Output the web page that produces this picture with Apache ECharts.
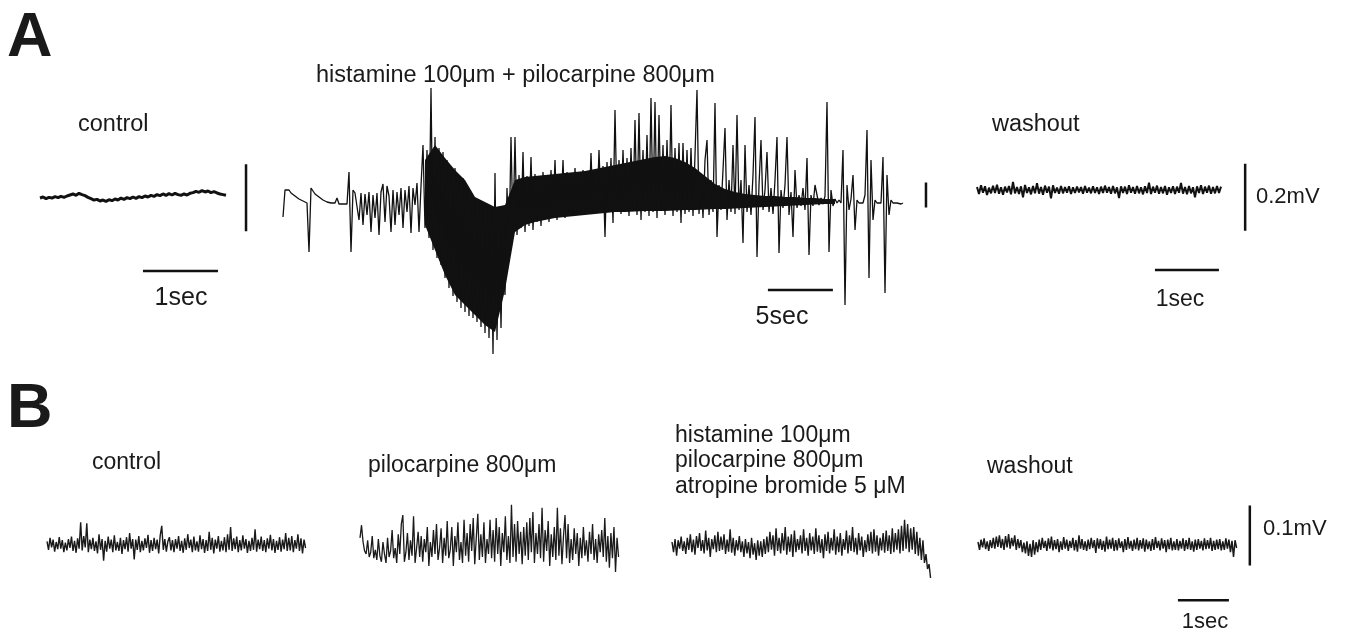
<!DOCTYPE html>
<html>
<head>
<meta charset="UTF-8">
<title>EMG traces</title>
<script src="https://cdn.jsdelivr.net/npm/echarts@6.0.0/dist/echarts.min.js"></script>
<style>
  html, body { margin: 0; padding: 0; background: #fff; }
  #chart { width: 1347px; height: 635px; }
</style>
</head>
<body>
<div id="chart"></div>
<script>
// ---- data (µV) ----
// A, control: 3px per sample
const aControl = [-6,-3,-8,-4,-6,-2,-5,-1,-4,0,
  3,6,2,8,4,1,-4,-8,-12,-10,
  -15,-12,-16,-11,-14,-9,-12,-6,-10,-5,
  -8,-3,-7,-2,-5,0,-3,2,-1,4,
  1,6,2,7,3,8,4,2,6,3,
  8,10,14,11,16,12,15,10,13,9,
  6,4,2];

// A, histamine + pilocarpine: three stretches, 2px per sample
const aDrugEarly = [-170,100,120,100,70,50,40,20,10,0,
  -10,-20,-30,-520,120,90,60,40,30,10,
  0,-10,-20,-20,-30,-20,-30,20,-40,-30,
  -40,-30,-40,280,-520,100,70,60,-200,70,
  -250,60,-150,80,-320,50,-180,70,-350,80,
  160,-220,140,40,-320,100,-250,80,-150,120,
  -280,100,-120,140,-330,120,-50,170,-320,140];
const aDrugBurst = [550,-280,500,-380,1120,-500,630,-580,520,-650,
  480,-780,400,-880,330,-960,320,-1020,240,-1080,
  220,-1120,120,-1160,50,-1180,0,-1220,-30,-1270,
  -40,-1330,-50,-1380,-70,-1540,270,-1400,-100,-1280,
  -120,-950,120,-500,630];
const aDrugLate = [-320,630,-350,250,-280,480,-320,240,-260,430,
  -300,260,-220,220,-260,280,-180,240,-220,300,
  -160,400,-200,250,-140,400,-180,280,-120,240,
  -160,320,-100,260,-150,300,-110,250,-140,470,
  -100,280,-130,500,-90,340,-370,380,-120,420,
  -230,900,-100,400,-140,500,-120,420,-160,520,
  -110,800,-150,870,-200,500,-120,650,-160,1020,
  -120,980,-180,850,-110,550,-150,600,-100,950,
  -160,520,-120,570,-230,570,-140,500,-120,520,
  -160,450,1100,-140,250,-180,400,600,-150,200,
  -120,970,-370,150,-100,300,720,-200,200,-120,
  550,-140,850,-100,200,-430,550,-120,150,-150,
  250,830,-570,150,600,-100,100,480,-120,120,
  -140,200,630,-530,100,-80,150,630,-150,80,
  -370,300,-80,50,-60,120,-100,420,-550,50,
  -60,150,150,-50,20,-40,40,980,-520,100,
  -60,10,-30,0,-30,500,-1050,150,-100,10,
  250,-300,0,-30,-10,-30,50,700,-780,400,
  -200,0,-30,-10,-30,430,-930,250,-150,0,
  -30,-10,-30,-20,-40,-30];
// solid core of the drug trace, every 10px from 11 s on
const aCoreTop = [400,550,420,300,200,30,-20,-70,-50,200,
  230,240,250,260,270,280,290,310,330,350,
  370,390,410,430,440,420,380,320,240,160,
  110,80,60,50,40,40,30,30,20,20,
  10,10];
const aCoreBottom = [-250,-500,-750,-950,-1050,-1150,-1250,-1320,-900,-320,
  -250,-220,-200,-180,-170,-160,-150,-140,-130,-120,
  -120,-115,-110,-110,-110,-105,-100,-100,-95,-90,
  -90,-85,-80,-75,-70,-65,-60,-55,-50,-45,
  -40,-40];

// A, washout: 2px per sample
const aWash = [9,-12,14,-8,11,-15,7,-10,13,-9,16,-11,8,-14,10,-7,12,-13,24,-10,
  9,-12,11,-22,15,-9,8,-13,12,-10,20,-11,9,-14,13,-8,10,-25,14,-9,
  7,-11,12,-10,9,-8,11,-12,8,-9,10,-7,9,-11,12,-8,7,-10,11,-9,
  8,-12,10,-9,13,-8,9,-11,12,-10,8,-24,11,-9,10,-12,14,-8,9,-11,
  12,-10,8,-13,11,-9,22,-12,10,-8,13,-11,9,-10,12,-14,8,-9,11,-12,
  10,-8,21,-11,9,-13,12,-10,8,-22,11,-9,14,-12,10,-8,13,-11,9,-10,
  12,-9,10];

// B traces: 0.03 s per sample
const bControl = [6,-8,12,-4,9,-11,5,-7,13,-6,
  8,-12,4,-9,10,-5,14,-10,7,-13,
  11,-6,38,-9,15,-4,36,-12,9,-7,
  12,-10,6,-14,18,-8,10,-26,7,-11,
  14,-6,9,-12,16,-9,5,-10,12,-15,
  8,-7,13,-11,20,-6,10,-24,9,-8,
  15,-12,7,-9,11,-5,17,-13,8,-10,
  12,-7,9,-14,16,32,-8,10,-11,6,
  13,-9,8,-12,10,-6,15,-10,7,-13,
  11,-8,18,-5,9,-12,14,-9,6,-11,
  16,-7,10,-13,8,-10,22,-8,12,-14,
  9,-6,15,-11,7,-9,13,-12,18,-8,
  30,-10,11,-7,14,-12,8,-9,16,-6,
  10,-13,7,-10,12,-8,26,-11,9,-7,
  14,-10,8,-12,11,-6,17,-9,10,-13,
  7,-8,13,-11,9,-7,20,-10,12,-9,
  15,-12,8,-6,18,-10,11,-14,9,-5];
const bPilo = [12,33,5,-10,-15,8,-20,-12,15,-22,
  -8,-25,10,-18,-28,5,-15,-30,12,-20,
  -10,25,-22,-5,-30,18,-15,35,50,-28,
  -12,20,-25,8,-18,48,-30,-5,22,-20,
  15,-28,10,-12,30,-35,5,-20,25,-15,
  35,-25,-5,28,-30,12,-18,40,-22,-8,
  30,-35,15,-12,38,-25,5,-30,42,-18,
  20,-28,35,-10,45,-32,12,52,-25,18,
  -20,38,-30,10,-15,42,-22,25,-28,45,
  -15,30,-35,20,-12,48,-25,15,-30,67,
  -20,35,-28,40,-15,22,-32,30,-18,38,
  -25,45,-12,55,-30,20,-15,35,-22,62,
  -28,25,-10,40,-35,18,-20,30,-25,62,
  -18,28,-32,15,50,-22,35,-30,10,-25,
  28,-15,20,-35,12,-22,30,-18,8,-28,
  22,-15,35,-25,10,-30,18,-12,25,-20,
  45,-28,15,-38,20,-22,30,-45,12,-20];
const bAtropine = [5,-12,10,-18,8,-6,14,-10,6,-15,
  12,-8,18,-12,9,-16,15,-5,20,-10,
  8,-14,24,-9,12,-20,10,-7,16,-12,
  22,-10,14,-8,18,-15,9,-11,26,-13,
  12,-18,8,-9,15,-12,6,-20,10,-14,
  5,-22,12,-16,3,-25,8,-18,6,-20,
  10,-15,14,-12,22,-8,16,-18,28,-10,
  12,-14,20,-9,30,-16,14,-11,18,-20,
  24,-12,10,-8,16,-14,26,-10,12,-18,
  20,-9,14,-15,28,-11,16,-13,10,-22,
  18,-10,22,-14,12,-9,26,-16,14,-12,
  20,-18,10,-8,24,-14,16,-10,30,-12,
  12,-16,20,-9,14,-20,8,-12,18,-10,
  22,-14,26,-11,16,-18,12,-9,20,-13,
  24,-10,16,-15,28,-12,20,-8,26,-14,
  32,-10,42,-6,35,-12,28,-8,30,-15,
  22,-18,12,-25,8,-30,-15,-40,-32,-55];
const bWash = [5,-8,9,-4,11,-7,6,-10,8,-5,
  12,-6,14,-3,16,-5,10,-8,15,-4,
  18,-6,12,-2,16,-8,10,-5,8,-12,
  4,-14,6,-18,2,-20,8,-16,5,-12,
  9,-8,12,-5,7,-10,11,-6,14,-9,
  8,-7,10,-12,6,-8,13,-6,9,-10,
  7,-5,12,-9,8,-11,16,-6,10,-8,
  6,-10,9,-7,12,-5,8,-13,11,-6,
  10,-8,7,-11,14,-7,9,-6,12,-10,
  8,-9,11,-5,6,-12,10,-8,13,-6,
  7,-10,9,-7,12,-9,8,-6,11,-11,
  9,-7,6,-10,10,-8,13,-5,7,-9,
  11,-6,8,-12,9,-7,12,-9,6,-8,
  10,-9,7,-6,11,-10,8,-7,12,-8,
  6,-11,9,-8,10,-6,7,-9,11,-7,
  8,-6,12,-10,7,-8,9,-7,10,-9,
  6,-8,11,-6,9,-12,7,-20,8,-5];

// ---- panel layout: pixel origin of (t=0, v=0) and scale ----
const panels = [
  { box: [30, 150, 230, 135], x0: 40,  y0: 196, pxSec: 75, pxUv: 0.335 },  // A control
  { box: [275, 85, 665, 280], x0: 283, y0: 200, pxSec: 13, pxUv: 0.1 },    // A drug
  { box: [970, 150, 290, 135], x0: 977, y0: 190, pxSec: 64, pxUv: 0.335 }, // A washout
  { box: [40, 495, 280, 120],  x0: 47,  y0: 545, pxSec: 51, pxUv: 0.6 },   // B control
  { box: [353, 495, 280, 120], x0: 360, y0: 545, pxSec: 51, pxUv: 0.6 },   // B pilocarpine
  { box: [665, 495, 280, 120], x0: 672, y0: 545, pxSec: 51, pxUv: 0.6 },   // B atropine
  { box: [970, 495, 290, 120], x0: 978, y0: 545, pxSec: 51, pxUv: 0.6 }    // B washout
];

const grids = [], xAxes = [], yAxes = [];
panels.forEach(p => {
  const [l, t, w, h] = p.box;
  grids.push({ left: l, top: t, width: w, height: h });
  xAxes.push({ type: 'value', gridIndex: grids.length - 1, show: false,
    min: (l - p.x0) / p.pxSec, max: (l + w - p.x0) / p.pxSec });
  yAxes.push({ type: 'value', gridIndex: grids.length - 1, show: false,
    min: (p.y0 - (t + h)) / p.pxUv, max: (p.y0 - t) / p.pxUv });
});

const INK = '#111';
function trace(values, dt, idx, width, color) {
  return {
    type: 'line', xAxisIndex: idx, yAxisIndex: idx,
    data: values.map((v, i) => [i * dt, v]),
    showSymbol: false, animation: false, silent: true,
    lineStyle: { color: color || INK, width: width }
  };
}
function bar(points, idx, width) {
  return {
    type: 'line', xAxisIndex: idx, yAxisIndex: idx, data: points,
    showSymbol: false, animation: false, silent: true,
    lineStyle: { color: INK, width: width, cap: 'butt' }
  };
}

const drugDt = 2 / 13;
const drugAll = aDrugEarly.concat(aDrugBurst, aDrugLate);
const coreT0 = 142 / 13, coreDt = 10 / 13;
const bDt = 0.03;
const bColor = '#1a1a1a';

// outline of the solid core: top edge forward, bottom edge back
const coreOutline = aCoreTop.map((v, i) => [coreT0 + i * coreDt, v])
  .concat(aCoreBottom.map((v, i) => [coreT0 + i * coreDt, v]).reverse());

const series = [
  trace(aControl, 0.04, 0, 3),
  {
    type: 'custom', xAxisIndex: 1, yAxisIndex: 1, animation: false, silent: true,
    data: [0],
    renderItem: (params, api) => ({
      type: 'polygon',
      shape: { points: coreOutline.map(p => api.coord(p)) },
      style: { fill: INK }
    })
  },
  trace(drugAll, drugDt, 1, 1.3),
  trace(aWash, 2 / 64, 2, 2),
  trace(bControl, bDt, 3, 1.4, bColor),
  trace(bPilo, bDt, 4, 1.3, bColor),
  trace(bAtropine, bDt, 5, 1.4, bColor),
  trace(bWash, bDt, 6, 1.5, bColor),
  // scale bars (sec, µV)
  bar([[2.747, -105], [2.747, 95]], 0, 2.5),
  bar([[1.373, -224], [2.373, -224]], 0, 2.5),
  bar([[37.3, -900], [42.3, -900]], 1, 2.5),
  bar([[49.46, -75], [49.46, 175]], 1, 2.5),
  bar([[4.19, -122], [4.19, 78]], 2, 2.5),
  bar([[2.78, -239], [3.78, -239]], 2, 2.5),
  bar([[5.33, -34], [5.33, 66]], 6, 2.5),
  bar([[3.92, -92], [4.92, -92]], 6, 2.5)
];

const FONT = 'Liberation Sans, Arial, sans-serif';
function label(text, x, y, size, align, weight) {
  return { type: 'text', x: x, y: y, silent: true,
    style: { text: text, fill: '#1a1a1a', textAlign: align || 'left', textVerticalAlign: 'middle',
      font: (weight || 'normal') + ' ' + size + 'px ' + FONT } };
}

const chart = echarts.init(document.getElementById('chart'), null, { renderer: 'canvas' });
chart.setOption({
  backgroundColor: '#fff',
  animation: false,
  grid: grids, xAxis: xAxes, yAxis: yAxes,
  series: series,
  graphic: [
    label('A', 7, 39, 63, 'left', 'bold'),
    label('B', 7, 410, 63, 'left', 'bold'),
    label('control', 78, 125, 23.5),
    label('histamine 100μm + pilocarpine 800μm', 316, 76, 23.5),
    label('washout', 992, 125, 23.5),
    label('1sec', 181, 298, 25, 'center'),
    label('5sec', 782, 317, 25, 'center'),
    label('1sec', 1180, 300, 23, 'center'),
    label('0.2mV', 1256, 197, 22),
    label('control', 92, 463, 23),
    label('pilocarpine 800μm', 368, 466, 23),
    label('histamine 100μm', 675, 436, 23),
    label('pilocarpine 800μm', 675, 461, 23),
    label('atropine bromide 5 μM', 675, 487, 23),
    label('washout', 987, 467, 23),
    label('0.1mV', 1263, 529, 22),
    label('1sec', 1205, 622, 22, 'center')
  ]
});
</script>
</body>
</html>
